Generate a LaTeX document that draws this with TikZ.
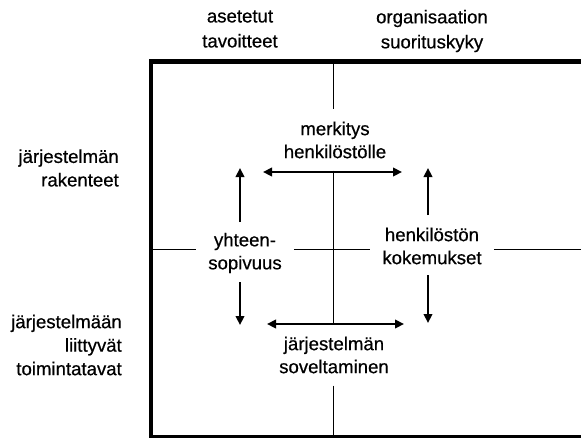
\documentclass[tikz,border=0pt]{standalone}
\usepackage{fontspec}
\setmainfont{Liberation Sans}
\newfontfamily\lblfont[FakeBold=0.6]{Liberation Sans}
\usetikzlibrary{arrows.meta}
\begin{document}
\begin{tikzpicture}[x=1pt,y=-1pt,
        >={Triangle[length=9pt,width=8.5pt]},
        lbl/.style={align=center,font=\lblfont\fontsize{18.6}{23}\selectfont,inner sep=12pt},
        side/.style={align=right,font=\lblfont\fontsize{18.6}{23.5}\selectfont,inner sep=0pt,anchor=east},
        head/.style={align=center,font=\lblfont\fontsize{18.6}{25}\selectfont,inner sep=0pt},
        rule/.style={line width=0.9pt},
        arr/.style={line width=2.8pt}]
            \useasboundingbox (0,0) rectangle (581,437);

            % frame
            \draw[line width=4.6pt]
                (600,61.7) -- (150.8,61.7) -- (150.8,437.6) -- (600,437.6);

            \node[head] (p1) at (240,29) {asetetut\\tavoitteet};
            \node[head] (p2) at (432,31) {organisaation\\suorituskyky};
            \node[side] (p3) at (119,168) {järjestelmän\\rakenteet};
            \node[side] (p4) at (122,345) {järjestelmään\\liittyvät\\toimintatavat};

            \node[lbl] (merk) at (335,140) {merkitys\\henkilöstölle};
            \node[lbl] (yht) at (245,253) {yhteen-\\sopivuus};
            \node[lbl] (kok) at (432,246) {henkilöstön\\kokemukset};
            \node[lbl] (sov) at (334,355) {järjestelmän\\soveltaminen};

            % cross
            \coordinate (top) at (333,61.7);
            \coordinate (bot) at (333,437.6);
            \coordinate (lft) at (150.8,249);
            \coordinate (rgt) at (581,249);

            \draw[rule] (top) -- (top |- merk.north)
                (top |- merk.south) -- (top |- sov.north)
                (top |- sov.south) -- (bot);
            \draw[rule] (lft) -- (lft -| yht.west)
                (lft -| yht.east) -- (lft -| kok.west)
                (lft -| kok.east) -- (rgt);

            % arrows
            \coordinate (a1) at (263,172);
            \coordinate (a2) at (402,172);
            \coordinate (b1) at (267,324);
            \coordinate (b2) at (404,324);
            \coordinate (u1) at (240,222);
            \coordinate (u2) at (240,168);
            \coordinate (v1) at (428,215);
            \coordinate (v2) at (428,168);
            \coordinate (d1) at (240,282);
            \coordinate (d2) at (240,325);
            \coordinate (e1) at (428,275);
            \coordinate (e2) at (428,323);

            \draw[arr,<->] (a1) -- (a2);
            \draw[arr,<->] (b1) -- (b2);
            \draw[arr,->] (u1) -- (u2);
            \draw[arr,->] (v1) -- (v2);
            \draw[arr,->] (d1) -- (d2);
            \draw[arr,->] (e1) -- (e2);
        \end{tikzpicture}
\end{document}
